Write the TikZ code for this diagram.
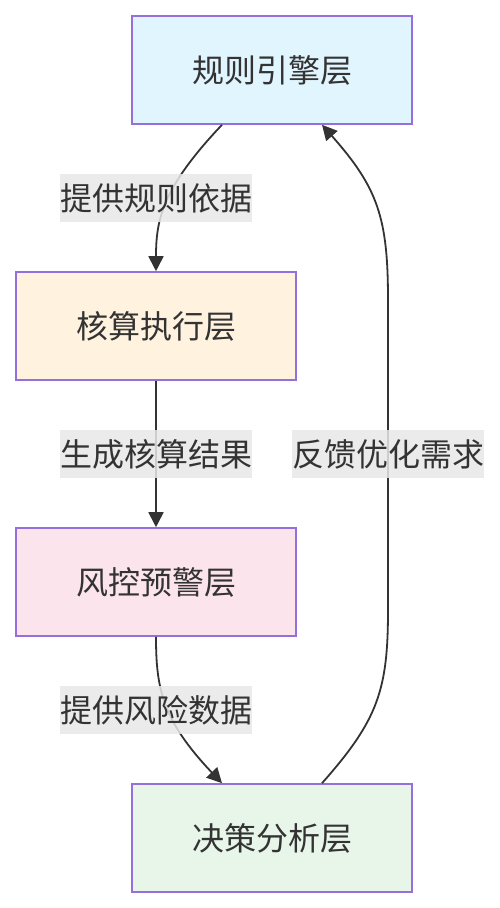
\documentclass[tikz,border=0pt]{standalone}
\usepackage{fontspec}
\setmainfont{Noto Sans CJK SC}
\usetikzlibrary{arrows.meta}
\definecolor{bordc}{HTML}{9370DB}
\definecolor{txtc}{HTML}{333333}
\definecolor{edgec}{HTML}{333333}
\definecolor{lblc}{HTML}{E8E8E8}
\definecolor{fa}{HTML}{E1F5FE}
\definecolor{fb}{HTML}{FFF3E0}
\definecolor{fc}{HTML}{FCE4EC}
\definecolor{fd}{HTML}{E8F5E9}
\tikzset{
  layer/.style={draw=bordc, line width=1.6pt, minimum width=280pt, minimum height=108pt, inner sep=0pt, text=txtc, font=\fontsize{32}{36}\selectfont},
  lbl/.style={fill=lblc, fill opacity=0.85, text opacity=1, text=txtc, inner sep=0pt, minimum width=192pt, minimum height=48pt, font=\fontsize{32}{36}\selectfont},
  conn/.style={draw=edgec, line width=1.8pt, -{Triangle[length=15pt,width=15pt]}}
}
\begin{document}
\begin{tikzpicture}[x=1pt,y=-1pt]
\useasboundingbox (0,0) rectangle (500,908);
\node[layer, fill=fa] (r) at (272,70) {规则引擎层};
\node[layer, fill=fb] (h) at (156,326) {核算执行层};
\node[layer, fill=fc] (f) at (156,582) {风控预警层};
\node[layer, fill=fd] (d) at (272,838) {决策分析层};
\draw[conn] ([xshift=-50pt]r.south) .. controls (162,188) and (156,220) .. (h.north);
\draw[conn] (h.south) -- (f.north);
\draw[conn] (f.south) .. controls (156,688) and (162,720) .. ([xshift=-50pt]d.north);
\draw[conn] ([xshift=50pt]d.north) .. controls (378,720) and (388,690) .. (388,610) -- (388,300) .. controls (388,218) and (378,188) .. ([xshift=50pt]r.south);
\node[lbl] (l1) at (156,198) {提供规则依据};
\node[lbl] (l2) at (156,454) {生成核算结果};
\node[lbl] (l3) at (156,710) {提供风险数据};
\node[lbl] (l4) at (388,454) {反馈优化需求};
\end{tikzpicture}
\end{document}
